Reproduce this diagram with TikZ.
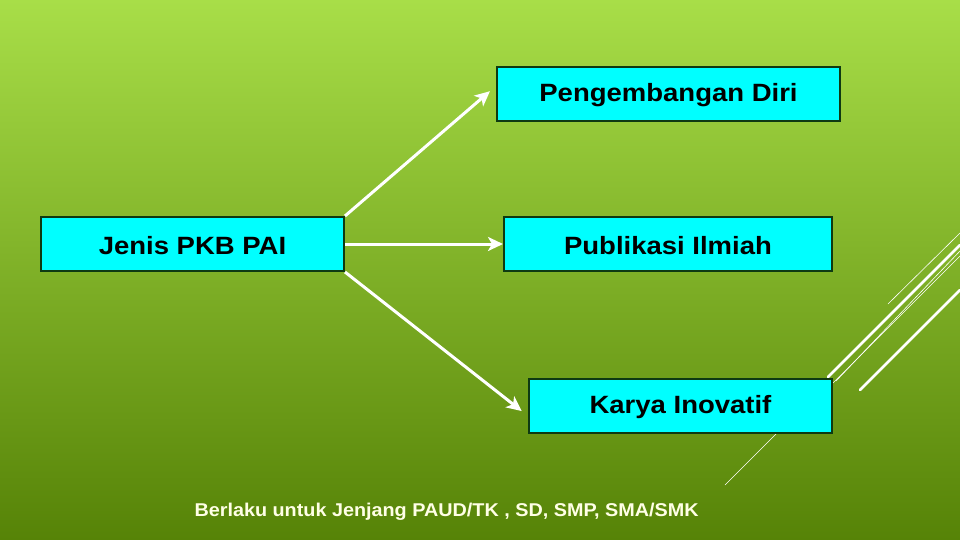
\documentclass[tikz,border=0pt]{standalone}
\usepackage{fontspec}
\setmainfont{Liberation Sans}
\usetikzlibrary{arrows.meta}
\definecolor{bgtop}{HTML}{A8DE48}
\definecolor{bgbot}{HTML}{568307}
\definecolor{boxfill}{HTML}{00FFFF}
\definecolor{boxline}{HTML}{0E3A12}
\definecolor{cream}{HTML}{FFFFE6}
\tikzset{
  box/.style={draw=boxline, line width=2pt, fill=boxfill, inner sep=0pt, anchor=north west},
  boxtext/.style={font=\fontsize{25}{30}\selectfont\bfseries, yshift=-1.5pt},
  conn/.style={white, line width=3pt, -{Stealth[length=15pt,width=14pt,inset=4pt]}},
  deco/.style={white, line cap=round},
}
\newcommand{\stretchtxt}[1]{\scalebox{1.1}[1]{#1}}
\begin{document}
\begin{tikzpicture}[x=1pt,y=-1pt]
\useasboundingbox (0,0) rectangle (960,540);
\shade[top color=bgtop, bottom color=bgbot] (0,0) rectangle (960,540);
% decorative lines
\draw[deco, line width=0.6pt] (888,304) -- (960,233);
\draw[deco, line width=2.5pt] (828,377) -- (960,245);
\draw[deco, line width=0.6pt] (833,383) -- (960,256);
\draw[deco, line width=0.6pt] (836,381) -- (960,251);
\draw[deco, line width=2.5pt] (860,390) -- (960,290);
\draw[deco, line width=0.6pt] (725,485) -- (790,420);
% boxes
\node[box, minimum width=343pt, minimum height=54pt] (peng) at (496,66) {};
\node[boxtext] at (peng.center) {\stretchtxt{Pengembangan Diri}};
\node[box, minimum width=303pt, minimum height=54pt] (jenis) at (40,216) {};
\node[boxtext] at (jenis.center) {\stretchtxt{Jenis PKB PAI}};
\node[box, minimum width=328pt, minimum height=54pt] (publ) at (503,216) {};
\node[boxtext] at (publ.center) {\stretchtxt{Publikasi Ilmiah}};
\node[box, minimum width=303pt, minimum height=54pt] (karya) at (528,378) {};
\node[boxtext] at (karya.center) {\stretchtxt{Karya Inovatif}};
% connectors
\draw[conn, shorten >=8pt] (jenis.north east) -- ([yshift=8pt]peng.west);
\draw[conn] (jenis.east) -- (publ.west);
\draw[conn, shorten >=8pt] (jenis.south east) -- ([yshift=-10pt]karya.west);
% footer
\node[cream, font=\fontsize{18.5}{22}\selectfont\bfseries, anchor=base west] (foot) at (191,516) {\scalebox{1.07}[1]{Berlaku untuk Jenjang PAUD/TK , SD, SMP, SMA/SMK}};
\end{tikzpicture}
\end{document}
